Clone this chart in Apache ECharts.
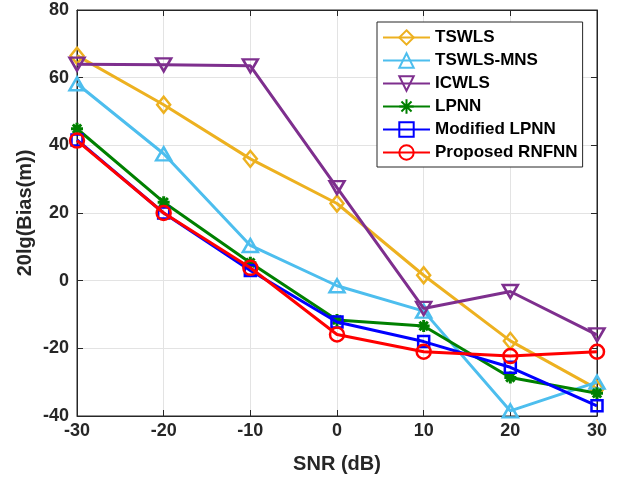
<!DOCTYPE html>
<html>
<head>
<meta charset="utf-8">
<script src="https://cdn.jsdelivr.net/npm/echarts@6/dist/echarts.min.js"></script>
<style>
html,body{margin:0;padding:0;background:#fff;}
#chart{width:626px;height:479px;}
</style>
</head>
<body>
<div id="chart"></div>
<script>
var snr = [-30, -20, -10, 0, 10, 20, 30];
var xTicks = [-30, -20, -10, 0, 10, 20, 30];
var yTicks = [-40, -20, 0, 20, 40, 60, 80];
var seriesNames = ['TSWLS', 'TSWLS-MNS', 'ICWLS', 'LPNN', 'Modified LPNN', 'Proposed RNFNN'];
var tswls = [66.5, 52, 36, 22.8, 1.6, -17.8, -32];
var tswlsMns = [58.2, 37.5, 10.4, -1.5, -9, -38.5, -30];
var icwls = [64, 63.8, 63.5, 27.5, -8.2, -3.2, -16];
var lpnn = [44.9, 23.2, 5.3, -11.6, -13.4, -28.6, -33.3];
var modLpnn = [41.6, 20, 3, -12.2, -18, -25.6, -37];
var rnfnn = [41.4, 20, 3.8, -15.9, -21, -22.3, -21];

var colors = ['#EDB120', '#4DBEEE', '#7E2F8E', '#008000', '#0000FF', '#FF0000'];
var allValues = [tswls, tswlsMns, icwls, lpnn, modLpnn, rnfnn];
var symbols = ['diamond', 'triangle', 'triangle', 'path://M10,0L10,20M0,10L20,10M3,3L17,17M3,17L17,3', 'rect', 'circle'];
var symbolSizes = [[13, 16], [15, 13], [15, 13], 12, 11, 14];
var symbolRotates = [0, 0, 180, 0, 0, 0];

var FONT = 'Liberation Sans, Arial, Helvetica, sans-serif';
var AXC = '#262626';

var chart = echarts.init(document.getElementById('chart'), null, {renderer: 'canvas'});

var series = seriesNames.map(function (name, i) {
  return {
    name: name,
    type: 'line',
    xAxisIndex: 0,
    yAxisIndex: 0,
    data: snr.map(function (x, j) { return [x, allValues[i][j]]; }),
    symbol: symbols[i],
    symbolSize: symbolSizes[i],
    symbolRotate: symbolRotates[i],
    showAllSymbol: true,
    lineStyle: {color: colors[i], width: 3},
    itemStyle: {
      color: i === 3 ? colors[i] : 'rgba(255,255,255,0)',
      borderColor: colors[i],
      borderWidth: i === 3 ? 3 : 2.5
    },
    emphasis: {disabled: true},
    animation: false,
    z: 2 + i
  };
});

var option = {
  backgroundColor: '#ffffff',
  animation: false,
  grid: {left: 77, right: 29, top: 10, bottom: 63, show: true, borderColor: AXC, borderWidth: 1, backgroundColor: 'transparent'},
  legend: {
    orient: 'vertical',
    left: 377,
    top: 22,
    padding: [7, 5, 6, 5],
    itemWidth: 47,
    itemHeight: 18,
    itemGap: 6,
    backgroundColor: '#ffffff',
    borderColor: AXC,
    borderWidth: 1,
    textStyle: {fontFamily: FONT, fontWeight: 'bold', fontSize: 17, color: '#000'},
    data: seriesNames
  },
  xAxis: [{
    type: 'value',
    min: -30, max: 30, interval: 10,
    name: 'SNR (dB)',
    nameLocation: 'middle',
    nameGap: 38,
    nameMoveOverlap: false,
    nameTextStyle: {fontFamily: FONT, fontWeight: 'bold', fontSize: 20, color: AXC},
    axisLine: {show: true, onZero: false, lineStyle: {color: AXC, width: 1}},
    axisTick: {show: true, inside: true, length: 6, lineStyle: {color: AXC}},
    axisLabel: {fontFamily: FONT, fontWeight: 'bold', fontSize: 18, color: AXC, margin: 6,
      formatter: function (v) { return xTicks.indexOf(v) >= 0 ? String(v) : ''; }},
    splitLine: {show: true, lineStyle: {color: '#e3e3e3', width: 1}}
  }, {
    type: 'value', position: 'top',
    min: -30, max: 30, interval: 10,
    axisLine: {show: true, onZero: false, lineStyle: {color: AXC, width: 1}},
    axisTick: {show: true, inside: true, length: 6, lineStyle: {color: AXC}},
    axisLabel: {show: false},
    splitLine: {show: false}
  }],
  yAxis: [{
    type: 'value',
    min: -40, max: 80, interval: 20,
    name: '20lg(Bias(m))',
    nameLocation: 'middle',
    nameGap: 42,
    nameMoveOverlap: false,
    nameTextStyle: {fontFamily: FONT, fontWeight: 'bold', fontSize: 20, color: AXC},
    axisLine: {show: true, onZero: false, lineStyle: {color: AXC, width: 1}},
    axisTick: {show: true, inside: true, length: 6, lineStyle: {color: AXC}},
    axisLabel: {fontFamily: FONT, fontWeight: 'bold', fontSize: 18, color: AXC, margin: 8,
      formatter: function (v) { return yTicks.indexOf(v) >= 0 ? String(v) : ''; }},
    splitLine: {show: true, lineStyle: {color: '#e3e3e3', width: 1}}
  }, {
    type: 'value', position: 'right',
    min: -40, max: 80, interval: 20,
    axisLine: {show: true, onZero: false, lineStyle: {color: AXC, width: 1}},
    axisTick: {show: true, inside: true, length: 6, lineStyle: {color: AXC}},
    axisLabel: {show: false},
    splitLine: {show: false}
  }],
  series: series
};
chart.setOption(option);
</script>
</body>
</html>
